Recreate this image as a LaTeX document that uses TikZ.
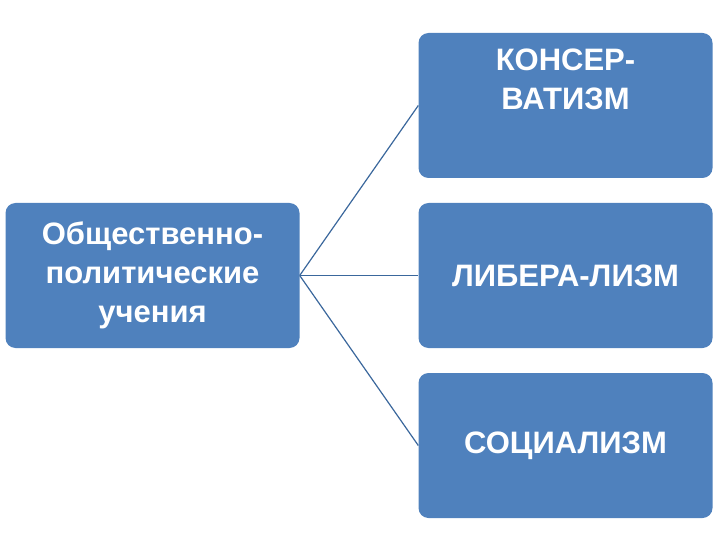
\documentclass[tikz,border=0pt]{standalone}
\usepackage{fontspec}
\setmainfont{Liberation Sans}
\definecolor{boxblue}{HTML}{4F81BD}
\definecolor{linkblue}{HTML}{3A679C}
\begin{document}
\begin{tikzpicture}[x=1pt,y=-1pt,
  blk/.style={fill=boxblue,draw=none,rounded corners=10pt,minimum width=294pt,minimum height=145pt,text=white,font=\fontsize{31}{39}\selectfont\bfseries,align=center,inner sep=0pt},
  link/.style={draw=linkblue,line width=1.2pt}]
\useasboundingbox (0,0) rectangle (720,540);
\node[blk] (root) at (152.5,275.5) {Общественно-\\политические\\учения};
\node[blk] (a) at (565.5,105.5) {};
\node[font=\fontsize{31}{39}\selectfont\bfseries,text=white,align=center,anchor=north] (at) at (565.5,45) {КОНСЕР-\\ВАТИЗМ};
\node[blk] (b) at (565.5,275.5) {ЛИБЕРА-ЛИЗМ};
\node[blk] (c) at (565.5,445.5) {СОЦИАЛИЗМ};
\draw[link] (root.east) -- (a.west);
\draw[link] (root.east) -- (b.west);
\draw[link] (root.east) -- (c.west);
\end{tikzpicture}
\end{document}
